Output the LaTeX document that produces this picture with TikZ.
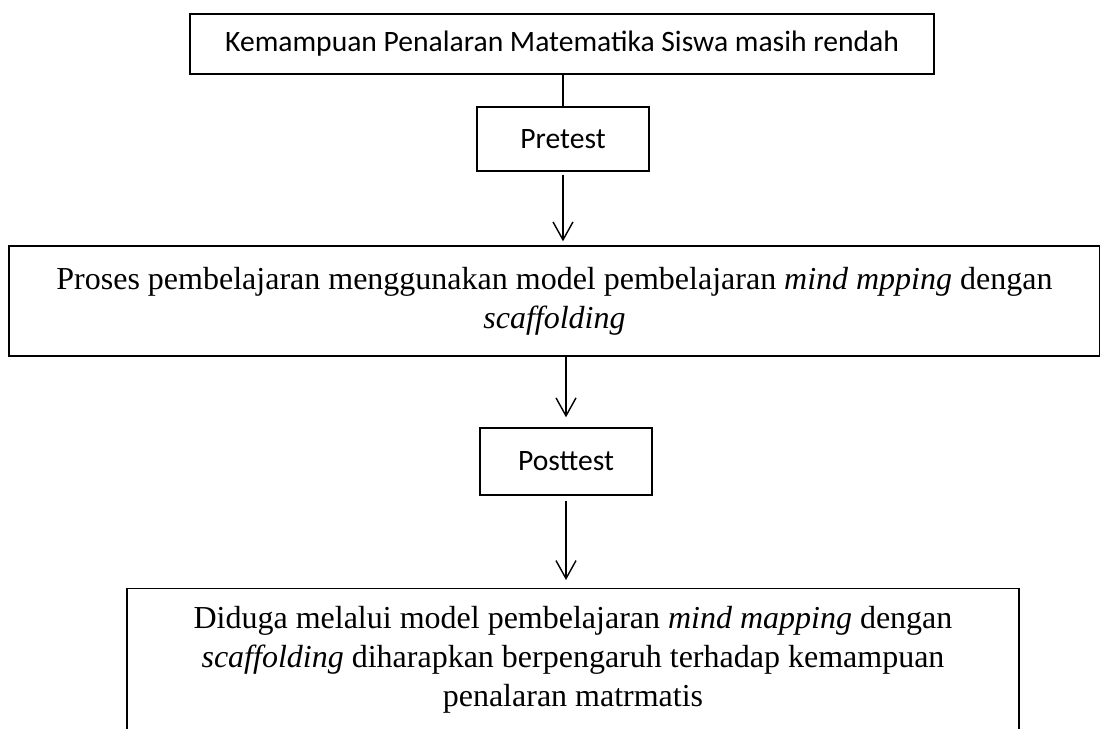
\documentclass[tikz,border=0pt]{standalone}
\usepackage{fontspec}
\setmainfont{Liberation Serif}
\newfontfamily\calibri{Carlito}
\usetikzlibrary{arrows.meta}

\begin{document}
\begin{tikzpicture}[x=0.5pt, y=-0.5pt, line width=0.7pt,
        kotak/.style = {draw, rectangle, inner sep=0pt, align=center},
        sans/.style = {font=\calibri\fontsize{14.8}{17.5}\selectfont},
        serif/.style = {font=\fontsize{16}{19.5}\selectfont},
        panah/.style = {-{Straight Barb[length=9pt, width=10pt]}}]
        \useasboundingbox (0,0) rectangle (1100,729);

        \node[kotak, sans, minimum width=372pt, minimum height=30pt] (1) at (562,44) {Kemampuan Penalaran Matematika Siswa masih rendah};
        \node[kotak, sans, minimum width=86pt, minimum height=32pt] (2) at (563,139) {Pretest};
        \node[kotak, serif, minimum width=545.5pt, minimum height=55pt] (3) at (554.5,301) {Proses pembelajaran menggunakan model pembelajaran \textit{mind mpping} dengan\\ \textit{scaffolding}};
        \node[kotak, sans, minimum width=86pt, minimum height=33.5pt] (4) at (566,461.5) {Posttest};
        % kotak terakhir terpotong di bawah
        \node[kotak, anchor=north, inner ysep=9pt] (5) at (573,588) {\parbox[c][75pt][t]{446pt}{\centering\fontsize{16}{19.5}\selectfont
            Diduga melalui model pembelajaran \textit{mind mapping} dengan\\
            \textit{scaffolding} diharapkan berpengaruh terhadap kemampuan\\
            penalaran matrmatis}};

        \draw (2.north) -- (2.north |- 1.south);
        \draw[panah, shorten <=1.5pt, shorten >=2pt] (2.south) -- (2.south |- 3.north);
        \draw[panah, shorten >=5pt] (4.north |- 3.south) -- (4.north);
        \draw[panah, shorten <=2.5pt, shorten >=4pt] (4.south) -- (4.south |- 5.north);

    \end{tikzpicture}
\end{document}
